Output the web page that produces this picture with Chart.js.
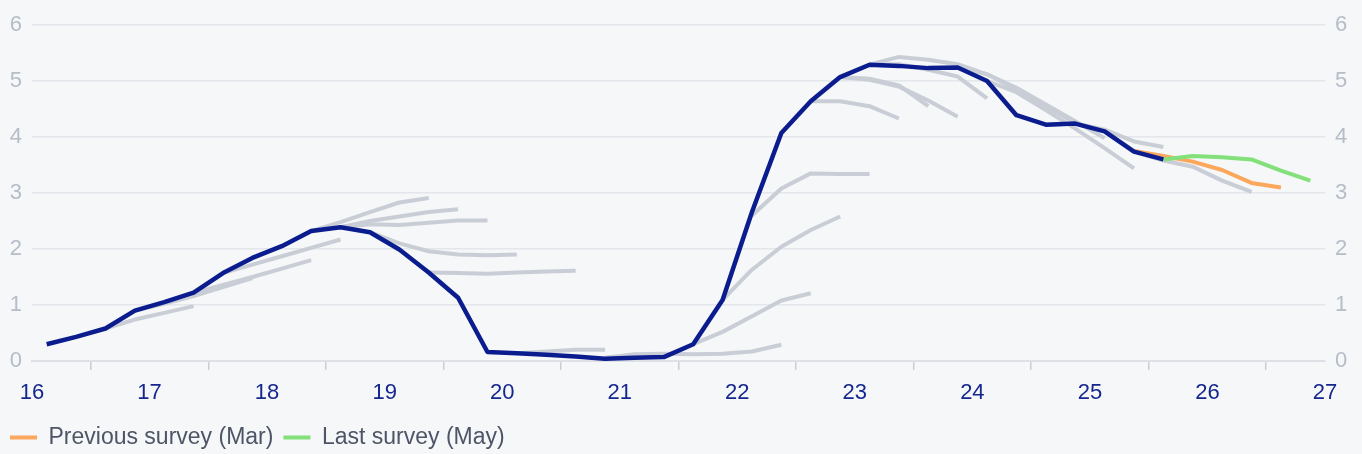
<!DOCTYPE html>
<html><head><meta charset="utf-8">
<script src="https://cdn.jsdelivr.net/npm/chart.js@4/dist/chart.umd.min.js"></script>
<style>html,body{margin:0;padding:0;background:#f5f7f8;}#wrap{width:1362px;height:454px;position:relative;}</style>
</head><body><div id="wrap"><canvas id="c"></canvas></div>
<script>
// Quarters (yyQn), first point = actual start
const quarters = ['16Q1','16Q2','16Q3','16Q4','17Q1','17Q2','17Q3','17Q4','18Q1','18Q2','18Q3','18Q4',
  '19Q1','19Q2','19Q3','19Q4','20Q1','20Q2','20Q3','20Q4','21Q1','21Q2','21Q3','21Q4',
  '22Q1','22Q2','22Q3','22Q4','23Q1','23Q2','23Q3','23Q4','24Q1','24Q2','24Q3','24Q4',
  '25Q1','25Q2','25Q3','25Q4','26Q1','26Q2','26Q3','26Q4'];
const yearTicks = [16,17,18,19,20,21,22,23,24,25,26,27];
const yTicks = [0,1,2,3,4,5,6];

const actual = [0.30,0.43,0.58,0.90,1.05,1.22,1.57,1.84,2.05,2.32,2.39,2.30,
  1.99,1.58,1.13,0.16,0.14,0.11,0.08,0.04,0.06,0.07,0.30,1.09,
  2.66,4.07,4.64,5.07,5.29,5.27,5.23,5.24,5.00,4.39,4.22,4.24,
  4.10,3.74,3.60];
const actualStart = '16Q1';

const prevSurvey = [3.75,3.66,3.56,3.41,3.18,3.10];
const prevSurveyStart = '25Q2';
const lastSurvey = [3.60,3.66,3.64,3.60,3.40,3.22];
const lastSurveyStart = '25Q3';

// older surveys (grey)
const pastSurveyStarts = ['16Q3','16Q4','17Q2','17Q3','18Q2','18Q3','18Q3','18Q4','19Q2','20Q1','20Q4',
  '21Q3','21Q4','22Q1','22Q3','22Q4','22Q4','23Q1','23Q1','23Q4','24Q1','24Q3','25Q2'];
const ps01 = [0.58,0.74,0.86,0.98];
const ps02 = [0.90,1.02,1.16,1.32,1.48];
const ps03 = [1.22,1.36,1.50,1.65,1.80];
const ps04 = [1.57,1.72,1.87,2.02,2.17];
const ps05 = [2.32,2.48,2.66,2.83,2.91];
const ps06 = [2.39,2.50,2.58,2.66,2.71];
const ps07 = [2.39,2.44,2.43,2.47,2.51,2.51];
const ps08 = [2.30,2.10,1.96,1.90,1.89,1.90];
const ps09 = [1.58,1.57,1.56,1.58,1.60,1.61];
const ps10 = [0.14,0.17,0.20,0.20];
const ps11 = [0.06,0.12,0.13,0.12,0.13,0.17,0.29];
const ps12 = [0.30,0.52,0.80,1.08,1.21];
const ps13 = [1.09,1.63,2.04,2.34,2.58];
const ps14 = [2.60,3.08,3.35,3.34,3.34];
const ps15 = [4.64,4.64,4.55,4.33];
const ps16 = [5.07,5.04,4.92,4.55];
const ps17 = [5.07,5.02,4.90,4.65,4.36];
const ps18 = [5.29,5.30,5.20,5.08,4.69];
const ps19 = [5.29,5.43,5.38,5.30,5.12,4.85,4.55,4.25];
const ps20 = [5.24,5.12,4.88,4.58,4.28,3.98];
const ps21 = [5.00,4.80,4.48,4.15,3.80,3.44];
const ps22 = [4.22,4.24,4.13,3.92,3.82];
const ps23 = [3.74,3.58,3.47,3.22,3.02];
const pastSurveys = [ps01,ps02,ps03,ps04,ps05,ps06,ps07,ps08,ps09,ps10,ps11,ps12,ps13,ps14,ps15,ps16,ps17,ps18,ps19,ps20,ps21,ps22,ps23];

// map a quarter label to its mid-quarter position on the year axis
function qPos(q){ const yy = parseInt(q.slice(0,2),10); const n = parseInt(q.slice(3),10); return yy + (n - 0.5)/4; }
function toPoints(values, start){
  const s = quarters.indexOf(start);
  return values.map((v,k)=>({x: qPos(quarters[s+k]), y: v}));
}

const NAVY = '#0b1d8e', GREY = '#c9ced6', ORANGE = '#fba75c', GREEN = '#83e07b';
const FONT = "'Liberation Sans', Arial, sans-serif";

const datasets = [];
datasets.push({label:'Actual', data: toPoints(actual, actualStart), borderColor: NAVY, backgroundColor: NAVY, borderWidth: 4.5, order: 0});
datasets.push({label:'Last survey (May)', data: toPoints(lastSurvey, lastSurveyStart), borderColor: GREEN, backgroundColor: GREEN, borderWidth: 4, order: 1});
datasets.push({label:'Previous survey (Mar)', data: toPoints(prevSurvey, prevSurveyStart), borderColor: ORANGE, backgroundColor: ORANGE, borderWidth: 4, order: 2});
pastSurveys.forEach((arr,k)=>{
  datasets.push({label:'past'+k, data: toPoints(arr, pastSurveyStarts[k]), borderColor: GREY, backgroundColor: GREY, borderWidth: 4, order: 3});
});

const bg = {id:'bg', beforeDraw(c){const x=c.ctx; x.save(); x.fillStyle='#f5f7f8'; x.fillRect(0,0,c.width,c.height); x.restore();}};
const legendShift = {id:'legendShift', afterLayout(c){ if(c.legend){ c.legend.top += 5; c.legend.bottom += 5; } }};

new Chart(document.getElementById('c'), {
  type: 'line',
  data: { datasets },
  plugins: [bg, legendShift],
  options: {
    responsive: true, maintainAspectRatio: false, animation: false,
    layout: { padding: { top: 25, right: 0, left: 0, bottom: 0 } },
    elements: { point: { radius: 0, hoverRadius: 0 }, line: { tension: 0, borderCapStyle: 'butt', borderJoinStyle: 'round' } },
    plugins: {
      tooltip: { enabled: false },
      legend: {
        position: 'bottom', align: 'start',
        labels: {
          boxWidth: 27, boxHeight: 4, padding: 10, color: '#4d5566',
          font: { family: FONT, size: 23 },
          generateLabels(chart){
            return [
              {text:'Previous survey (Mar)', fillStyle: ORANGE, strokeStyle: ORANGE, lineWidth: 0, hidden: false, datasetIndex: 2, fontColor:'#4d5566'},
              {text:'Last survey (May)', fillStyle: GREEN, strokeStyle: GREEN, lineWidth: 0, hidden: false, datasetIndex: 1, fontColor:'#4d5566'}
            ];
          }
        },
        onClick(){}
      }
    },
    scales: {
      x: {
        type: 'linear', min: 16, max: 27,
        afterBuildTicks(s){ const t=[]; yearTicks.forEach((y,i)=>{ t.push({value:y}); if(i<yearTicks.length-1) t.push({value:y+0.5}); }); s.ticks = t; },
        afterFit(s){ s.height = 50; },
        ticks: { autoSkip: false, maxRotation: 0, padding: 10, color: '#15268f', font: { family: FONT, size: 22 },
          callback(v){ return Number.isInteger(v) ? String(v) : ''; } },
        grid: { drawOnChartArea: false, drawTicks: true, tickLength: 9, lineWidth: 1.5,
          color(ctx){ return (ctx.tick && !Number.isInteger(ctx.tick.value)) ? '#c9ced6' : 'rgba(0,0,0,0)'; } },
        border: { display: true, color: '#dde1e6', width: 2 }
      },
      y: {
        position: 'left', min: 0, max: 6,
        afterBuildTicks(s){ s.ticks = yTicks.map(v=>({value:v})); },
        afterFit(s){ s.width = 32; },
        ticks: { padding: 10, color: '#b5bdc9', font: { family: FONT, size: 22 } },
        grid: { color: '#e3e6ea', lineWidth: 1.5, drawTicks: false },
        border: { display: false }
      },
      y2: {
        position: 'right', min: 0, max: 6,
        afterBuildTicks(s){ s.ticks = yTicks.map(v=>({value:v})); },
        afterFit(s){ s.width = 37; },
        ticks: { padding: 10, color: '#b5bdc9', font: { family: FONT, size: 22 } },
        grid: { drawOnChartArea: false, drawTicks: false },
        border: { display: false }
      }
    }
  }
});
</script></body></html>
